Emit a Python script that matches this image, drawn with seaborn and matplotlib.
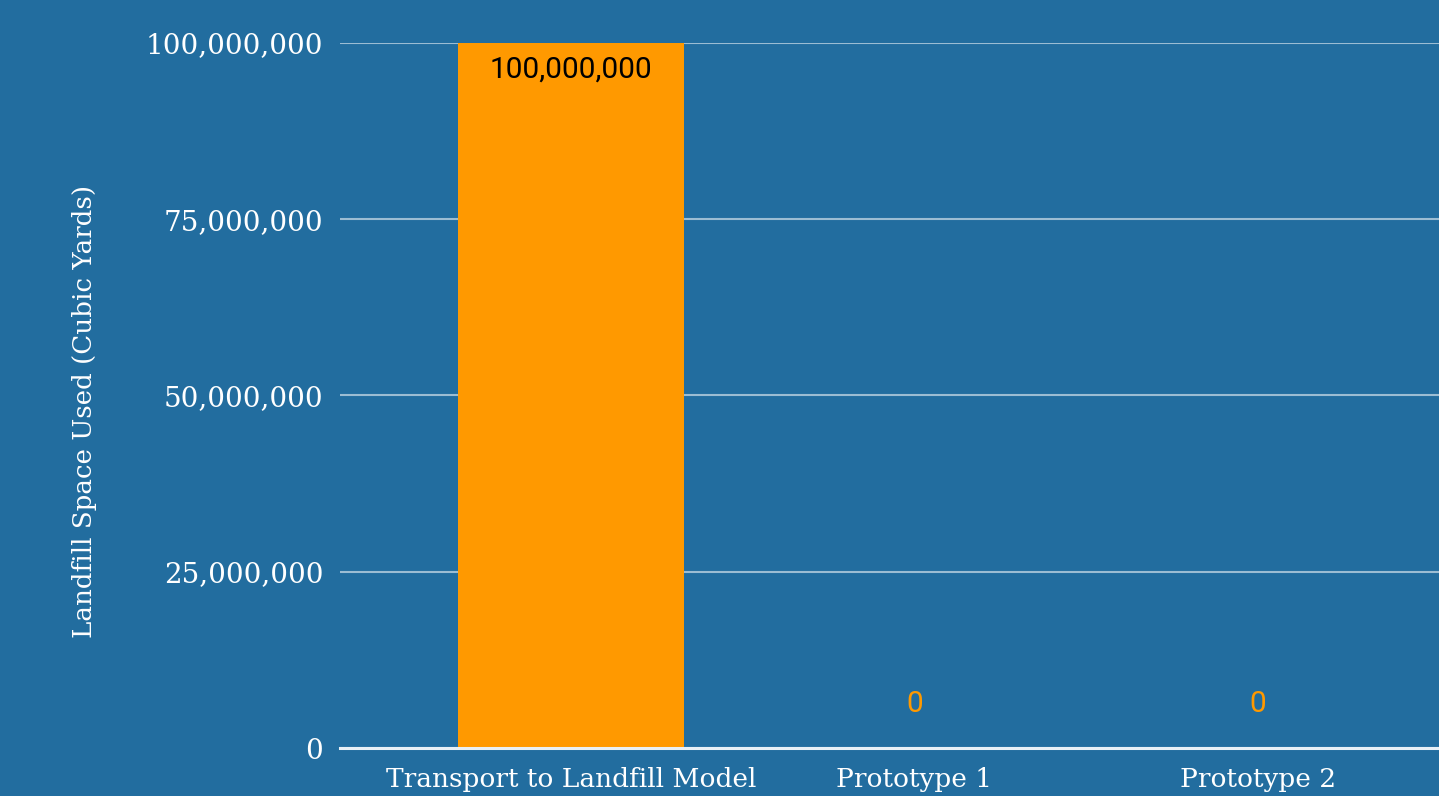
import matplotlib
matplotlib.use("Agg")
import matplotlib.pyplot as plt
import seaborn as sns
import pandas as pd
from matplotlib.ticker import FuncFormatter

# data
categories = ["Transport to Landfill Model", "Prototype 1", "Prototype 2"]
values = [100000000, 0, 0]
label_text = ["100,000,000", "0", "0"]

bg = "#226d9f"
orange = "#ff9900"

df = pd.DataFrame({"model": categories, "space": values})

sns.set_theme(style="white")
plt.rcParams["font.family"] = ["DejaVu Serif"]

fig = plt.figure(figsize=(14.39, 7.96), dpi=100)
fig.patch.set_facecolor(bg)
ax = fig.add_axes([0.2363, 0.0603, 0.7637, 0.8857])
ax.set_facecolor(bg)

sns.barplot(data=df, x="model", y="space", color=orange, width=0.656,
            saturation=1, linewidth=0, ax=ax, zorder=3)

ax.set_ylim(0, 100000000)
ax.set_xlim(-0.673, 2.528)
ax.set_yticks([0, 25000000, 50000000, 75000000, 100000000])
ax.yaxis.set_major_formatter(FuncFormatter(lambda v, p: f"{int(v):,}"))
ax.grid(axis="y", color="#9cbdd3", linewidth=1.5, zorder=0)
ax.grid(axis="x", visible=False)

for s in ["top", "right", "left"]:
    ax.spines[s].set_visible(False)
ax.spines["bottom"].set_color("#e8f0f6")
ax.spines["bottom"].set_linewidth(2.2)
ax.spines["bottom"].set_zorder(4)

ax.tick_params(axis="both", length=0, colors="white", labelsize=19)
ax.tick_params(axis="x", pad=14)
for lab in ax.get_yticklabels():
    lab.set_fontsize(20)
ax.tick_params(axis="y", pad=12)
ax.set_xlabel("")
ax.set_ylabel("Landfill Space Used (Cubic Yards)", color="white", fontsize=18.8)
ax.yaxis.set_label_coords(-0.221, 0.478)

for i, v in enumerate(values):
    if v > 0:
        ax.text(i, v - 1800000, label_text[i], ha="center", va="top", color="black",
                fontsize=21.5, family=["Roboto", "DejaVu Sans"], zorder=5)
    else:
        ax.text(i, 6300000, label_text[i], ha="center", va="center", color=orange,
                fontsize=21.5, family=["Roboto", "DejaVu Sans"], zorder=5)

fig.savefig("out.png", dpi=100, facecolor=bg)
